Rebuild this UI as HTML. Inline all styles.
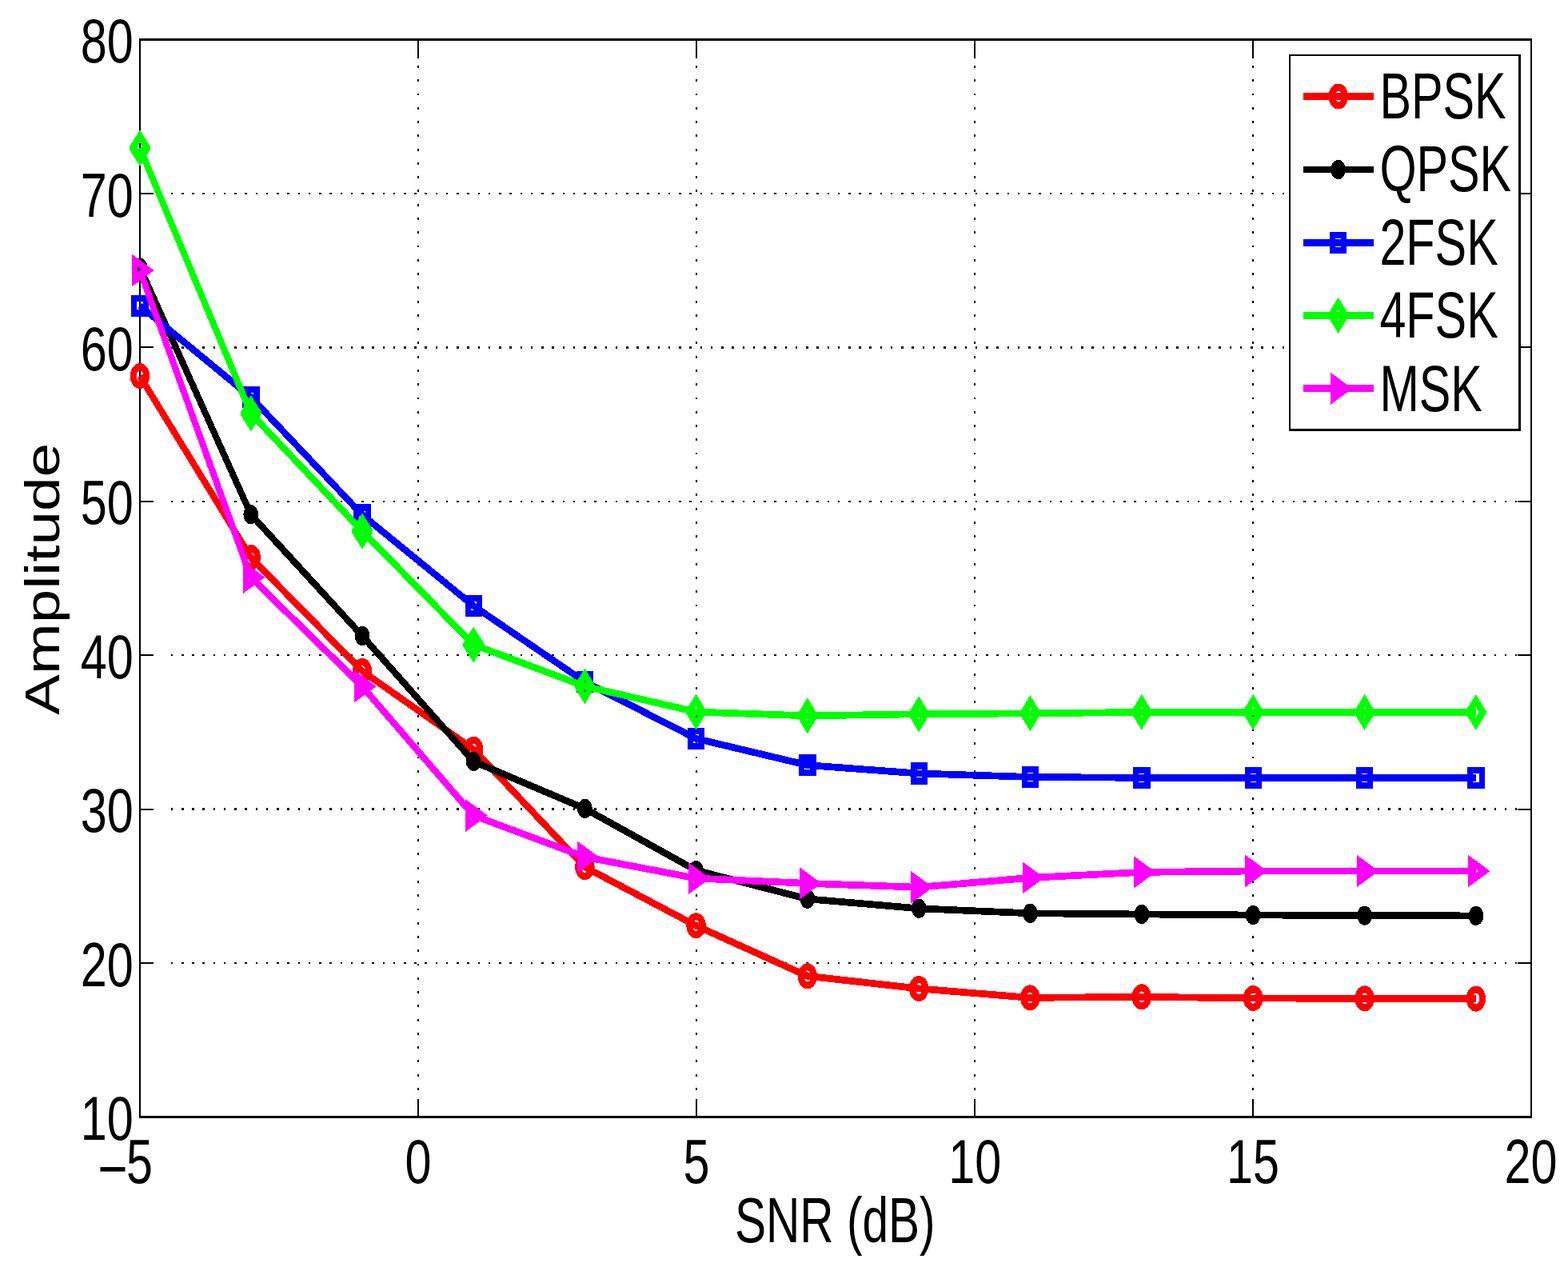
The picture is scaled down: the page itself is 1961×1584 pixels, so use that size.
<!DOCTYPE html>
<html lang="en"><head><meta charset="utf-8"><title>Amplitude vs SNR (dB)</title>
<style>html,body{margin:0;padding:0;background:#fff}body{width:1961px;height:1584px;overflow:hidden}svg{display:block}text{font-family:"Liberation Sans",Arial,Helvetica,sans-serif;font-size:77px;fill:#000}</style>
</head><body>
<svg width="1961" height="1584" viewBox="0 0 1961 1584">
<rect width="1961" height="1584" fill="#fff"/>
<g fill="#000" shape-rendering="crispEdges">
<path d="M213.76 1202.82h2.5v2.5h-2.5zM227 1202.82h2.5v2.5h-2.5zM240.24 1202.82h2.5v2.5h-2.5zM253.48 1202.82h2.5v2.5h-2.5zM266.72 1202.82h2.5v2.5h-2.5zM279.95 1202.82h2.5v2.5h-2.5zM293.19 1202.82h2.5v2.5h-2.5zM306.43 1202.82h2.5v2.5h-2.5zM319.67 1202.82h2.5v2.5h-2.5zM332.91 1202.82h2.5v2.5h-2.5zM346.14 1202.82h2.5v2.5h-2.5zM359.38 1202.82h2.5v2.5h-2.5zM372.62 1202.82h2.5v2.5h-2.5zM385.86 1202.82h2.5v2.5h-2.5zM399.1 1202.82h2.5v2.5h-2.5zM412.33 1202.82h2.5v2.5h-2.5zM425.57 1202.82h2.5v2.5h-2.5zM438.81 1202.82h2.5v2.5h-2.5zM452.05 1202.82h2.5v2.5h-2.5zM465.29 1202.82h2.5v2.5h-2.5zM478.52 1202.82h2.5v2.5h-2.5zM491.76 1202.82h2.5v2.5h-2.5zM505 1202.82h2.5v2.5h-2.5zM518.24 1202.82h2.5v2.5h-2.5zM531.48 1202.82h2.5v2.5h-2.5zM544.71 1202.82h2.5v2.5h-2.5zM557.95 1202.82h2.5v2.5h-2.5zM571.19 1202.82h2.5v2.5h-2.5zM584.43 1202.82h2.5v2.5h-2.5zM597.67 1202.82h2.5v2.5h-2.5zM610.9 1202.82h2.5v2.5h-2.5zM624.14 1202.82h2.5v2.5h-2.5zM637.38 1202.82h2.5v2.5h-2.5zM650.62 1202.82h2.5v2.5h-2.5zM663.86 1202.82h2.5v2.5h-2.5zM677.09 1202.82h2.5v2.5h-2.5zM690.33 1202.82h2.5v2.5h-2.5zM703.57 1202.82h2.5v2.5h-2.5zM716.81 1202.82h2.5v2.5h-2.5zM730.05 1202.82h2.5v2.5h-2.5zM743.28 1202.82h2.5v2.5h-2.5zM756.52 1202.82h2.5v2.5h-2.5zM769.76 1202.82h2.5v2.5h-2.5zM783 1202.82h2.5v2.5h-2.5zM796.24 1202.82h2.5v2.5h-2.5zM809.47 1202.82h2.5v2.5h-2.5zM822.71 1202.82h2.5v2.5h-2.5zM835.95 1202.82h2.5v2.5h-2.5zM849.19 1202.82h2.5v2.5h-2.5zM862.43 1202.82h2.5v2.5h-2.5zM875.66 1202.82h2.5v2.5h-2.5zM888.9 1202.82h2.5v2.5h-2.5zM902.14 1202.82h2.5v2.5h-2.5zM915.38 1202.82h2.5v2.5h-2.5zM928.62 1202.82h2.5v2.5h-2.5zM941.85 1202.82h2.5v2.5h-2.5zM955.09 1202.82h2.5v2.5h-2.5zM968.33 1202.82h2.5v2.5h-2.5zM981.57 1202.82h2.5v2.5h-2.5zM994.81 1202.82h2.5v2.5h-2.5zM1008.04 1202.82h2.5v2.5h-2.5zM1021.28 1202.82h2.5v2.5h-2.5zM1034.52 1202.82h2.5v2.5h-2.5zM1047.76 1202.82h2.5v2.5h-2.5zM1061 1202.82h2.5v2.5h-2.5zM1074.23 1202.82h2.5v2.5h-2.5zM1087.47 1202.82h2.5v2.5h-2.5zM1100.71 1202.82h2.5v2.5h-2.5zM1113.95 1202.82h2.5v2.5h-2.5zM1127.19 1202.82h2.5v2.5h-2.5zM1140.42 1202.82h2.5v2.5h-2.5zM1153.66 1202.82h2.5v2.5h-2.5zM1166.9 1202.82h2.5v2.5h-2.5zM1180.14 1202.82h2.5v2.5h-2.5zM1193.38 1202.82h2.5v2.5h-2.5zM1206.61 1202.82h2.5v2.5h-2.5zM1219.85 1202.82h2.5v2.5h-2.5zM1233.09 1202.82h2.5v2.5h-2.5zM1246.33 1202.82h2.5v2.5h-2.5zM1259.57 1202.82h2.5v2.5h-2.5zM1272.8 1202.82h2.5v2.5h-2.5zM1286.04 1202.82h2.5v2.5h-2.5zM1299.28 1202.82h2.5v2.5h-2.5zM1312.52 1202.82h2.5v2.5h-2.5zM1325.76 1202.82h2.5v2.5h-2.5zM1338.99 1202.82h2.5v2.5h-2.5zM1352.23 1202.82h2.5v2.5h-2.5zM1365.47 1202.82h2.5v2.5h-2.5zM1378.71 1202.82h2.5v2.5h-2.5zM1391.95 1202.82h2.5v2.5h-2.5zM1405.18 1202.82h2.5v2.5h-2.5zM1418.42 1202.82h2.5v2.5h-2.5zM1431.66 1202.82h2.5v2.5h-2.5zM1444.9 1202.82h2.5v2.5h-2.5zM1458.14 1202.82h2.5v2.5h-2.5zM1471.37 1202.82h2.5v2.5h-2.5zM1484.61 1202.82h2.5v2.5h-2.5zM1497.85 1202.82h2.5v2.5h-2.5zM1511.09 1202.82h2.5v2.5h-2.5zM1524.33 1202.82h2.5v2.5h-2.5zM1537.56 1202.82h2.5v2.5h-2.5zM1550.8 1202.82h2.5v2.5h-2.5zM1564.04 1202.82h2.5v2.5h-2.5zM1577.28 1202.82h2.5v2.5h-2.5zM1590.52 1202.82h2.5v2.5h-2.5zM1603.75 1202.82h2.5v2.5h-2.5zM1616.99 1202.82h2.5v2.5h-2.5zM1630.23 1202.82h2.5v2.5h-2.5zM1643.47 1202.82h2.5v2.5h-2.5zM1656.71 1202.82h2.5v2.5h-2.5zM1669.94 1202.82h2.5v2.5h-2.5zM1683.18 1202.82h2.5v2.5h-2.5zM1696.42 1202.82h2.5v2.5h-2.5zM1709.66 1202.82h2.5v2.5h-2.5zM1722.9 1202.82h2.5v2.5h-2.5zM1736.13 1202.82h2.5v2.5h-2.5zM1749.37 1202.82h2.5v2.5h-2.5zM1762.61 1202.82h2.5v2.5h-2.5zM1775.85 1202.82h2.5v2.5h-2.5zM1789.09 1202.82h2.5v2.5h-2.5zM1802.32 1202.82h2.5v2.5h-2.5zM1815.56 1202.82h2.5v2.5h-2.5zM1828.8 1202.82h2.5v2.5h-2.5zM1842.04 1202.82h2.5v2.5h-2.5zM1855.28 1202.82h2.5v2.5h-2.5zM1868.51 1202.82h2.5v2.5h-2.5zM1881.75 1202.82h2.5v2.5h-2.5zM1894.99 1202.82h2.5v2.5h-2.5zM213.76 1010.39h2.5v2.5h-2.5zM227 1010.39h2.5v2.5h-2.5zM240.24 1010.39h2.5v2.5h-2.5zM253.48 1010.39h2.5v2.5h-2.5zM266.72 1010.39h2.5v2.5h-2.5zM279.95 1010.39h2.5v2.5h-2.5zM293.19 1010.39h2.5v2.5h-2.5zM306.43 1010.39h2.5v2.5h-2.5zM319.67 1010.39h2.5v2.5h-2.5zM332.91 1010.39h2.5v2.5h-2.5zM346.14 1010.39h2.5v2.5h-2.5zM359.38 1010.39h2.5v2.5h-2.5zM372.62 1010.39h2.5v2.5h-2.5zM385.86 1010.39h2.5v2.5h-2.5zM399.1 1010.39h2.5v2.5h-2.5zM412.33 1010.39h2.5v2.5h-2.5zM425.57 1010.39h2.5v2.5h-2.5zM438.81 1010.39h2.5v2.5h-2.5zM452.05 1010.39h2.5v2.5h-2.5zM465.29 1010.39h2.5v2.5h-2.5zM478.52 1010.39h2.5v2.5h-2.5zM491.76 1010.39h2.5v2.5h-2.5zM505 1010.39h2.5v2.5h-2.5zM518.24 1010.39h2.5v2.5h-2.5zM531.48 1010.39h2.5v2.5h-2.5zM544.71 1010.39h2.5v2.5h-2.5zM557.95 1010.39h2.5v2.5h-2.5zM571.19 1010.39h2.5v2.5h-2.5zM584.43 1010.39h2.5v2.5h-2.5zM597.67 1010.39h2.5v2.5h-2.5zM610.9 1010.39h2.5v2.5h-2.5zM624.14 1010.39h2.5v2.5h-2.5zM637.38 1010.39h2.5v2.5h-2.5zM650.62 1010.39h2.5v2.5h-2.5zM663.86 1010.39h2.5v2.5h-2.5zM677.09 1010.39h2.5v2.5h-2.5zM690.33 1010.39h2.5v2.5h-2.5zM703.57 1010.39h2.5v2.5h-2.5zM716.81 1010.39h2.5v2.5h-2.5zM730.05 1010.39h2.5v2.5h-2.5zM743.28 1010.39h2.5v2.5h-2.5zM756.52 1010.39h2.5v2.5h-2.5zM769.76 1010.39h2.5v2.5h-2.5zM783 1010.39h2.5v2.5h-2.5zM796.24 1010.39h2.5v2.5h-2.5zM809.47 1010.39h2.5v2.5h-2.5zM822.71 1010.39h2.5v2.5h-2.5zM835.95 1010.39h2.5v2.5h-2.5zM849.19 1010.39h2.5v2.5h-2.5zM862.43 1010.39h2.5v2.5h-2.5zM875.66 1010.39h2.5v2.5h-2.5zM888.9 1010.39h2.5v2.5h-2.5zM902.14 1010.39h2.5v2.5h-2.5zM915.38 1010.39h2.5v2.5h-2.5zM928.62 1010.39h2.5v2.5h-2.5zM941.85 1010.39h2.5v2.5h-2.5zM955.09 1010.39h2.5v2.5h-2.5zM968.33 1010.39h2.5v2.5h-2.5zM981.57 1010.39h2.5v2.5h-2.5zM994.81 1010.39h2.5v2.5h-2.5zM1008.04 1010.39h2.5v2.5h-2.5zM1021.28 1010.39h2.5v2.5h-2.5zM1034.52 1010.39h2.5v2.5h-2.5zM1047.76 1010.39h2.5v2.5h-2.5zM1061 1010.39h2.5v2.5h-2.5zM1074.23 1010.39h2.5v2.5h-2.5zM1087.47 1010.39h2.5v2.5h-2.5zM1100.71 1010.39h2.5v2.5h-2.5zM1113.95 1010.39h2.5v2.5h-2.5zM1127.19 1010.39h2.5v2.5h-2.5zM1140.42 1010.39h2.5v2.5h-2.5zM1153.66 1010.39h2.5v2.5h-2.5zM1166.9 1010.39h2.5v2.5h-2.5zM1180.14 1010.39h2.5v2.5h-2.5zM1193.38 1010.39h2.5v2.5h-2.5zM1206.61 1010.39h2.5v2.5h-2.5zM1219.85 1010.39h2.5v2.5h-2.5zM1233.09 1010.39h2.5v2.5h-2.5zM1246.33 1010.39h2.5v2.5h-2.5zM1259.57 1010.39h2.5v2.5h-2.5zM1272.8 1010.39h2.5v2.5h-2.5zM1286.04 1010.39h2.5v2.5h-2.5zM1299.28 1010.39h2.5v2.5h-2.5zM1312.52 1010.39h2.5v2.5h-2.5zM1325.76 1010.39h2.5v2.5h-2.5zM1338.99 1010.39h2.5v2.5h-2.5zM1352.23 1010.39h2.5v2.5h-2.5zM1365.47 1010.39h2.5v2.5h-2.5zM1378.71 1010.39h2.5v2.5h-2.5zM1391.95 1010.39h2.5v2.5h-2.5zM1405.18 1010.39h2.5v2.5h-2.5zM1418.42 1010.39h2.5v2.5h-2.5zM1431.66 1010.39h2.5v2.5h-2.5zM1444.9 1010.39h2.5v2.5h-2.5zM1458.14 1010.39h2.5v2.5h-2.5zM1471.37 1010.39h2.5v2.5h-2.5zM1484.61 1010.39h2.5v2.5h-2.5zM1497.85 1010.39h2.5v2.5h-2.5zM1511.09 1010.39h2.5v2.5h-2.5zM1524.33 1010.39h2.5v2.5h-2.5zM1537.56 1010.39h2.5v2.5h-2.5zM1550.8 1010.39h2.5v2.5h-2.5zM1564.04 1010.39h2.5v2.5h-2.5zM1577.28 1010.39h2.5v2.5h-2.5zM1590.52 1010.39h2.5v2.5h-2.5zM1603.75 1010.39h2.5v2.5h-2.5zM1616.99 1010.39h2.5v2.5h-2.5zM1630.23 1010.39h2.5v2.5h-2.5zM1643.47 1010.39h2.5v2.5h-2.5zM1656.71 1010.39h2.5v2.5h-2.5zM1669.94 1010.39h2.5v2.5h-2.5zM1683.18 1010.39h2.5v2.5h-2.5zM1696.42 1010.39h2.5v2.5h-2.5zM1709.66 1010.39h2.5v2.5h-2.5zM1722.9 1010.39h2.5v2.5h-2.5zM1736.13 1010.39h2.5v2.5h-2.5zM1749.37 1010.39h2.5v2.5h-2.5zM1762.61 1010.39h2.5v2.5h-2.5zM1775.85 1010.39h2.5v2.5h-2.5zM1789.09 1010.39h2.5v2.5h-2.5zM1802.32 1010.39h2.5v2.5h-2.5zM1815.56 1010.39h2.5v2.5h-2.5zM1828.8 1010.39h2.5v2.5h-2.5zM1842.04 1010.39h2.5v2.5h-2.5zM1855.28 1010.39h2.5v2.5h-2.5zM1868.51 1010.39h2.5v2.5h-2.5zM1881.75 1010.39h2.5v2.5h-2.5zM1894.99 1010.39h2.5v2.5h-2.5zM213.76 817.96h2.5v2.5h-2.5zM227 817.96h2.5v2.5h-2.5zM240.24 817.96h2.5v2.5h-2.5zM253.48 817.96h2.5v2.5h-2.5zM266.72 817.96h2.5v2.5h-2.5zM279.95 817.96h2.5v2.5h-2.5zM293.19 817.96h2.5v2.5h-2.5zM306.43 817.96h2.5v2.5h-2.5zM319.67 817.96h2.5v2.5h-2.5zM332.91 817.96h2.5v2.5h-2.5zM346.14 817.96h2.5v2.5h-2.5zM359.38 817.96h2.5v2.5h-2.5zM372.62 817.96h2.5v2.5h-2.5zM385.86 817.96h2.5v2.5h-2.5zM399.1 817.96h2.5v2.5h-2.5zM412.33 817.96h2.5v2.5h-2.5zM425.57 817.96h2.5v2.5h-2.5zM438.81 817.96h2.5v2.5h-2.5zM452.05 817.96h2.5v2.5h-2.5zM465.29 817.96h2.5v2.5h-2.5zM478.52 817.96h2.5v2.5h-2.5zM491.76 817.96h2.5v2.5h-2.5zM505 817.96h2.5v2.5h-2.5zM518.24 817.96h2.5v2.5h-2.5zM531.48 817.96h2.5v2.5h-2.5zM544.71 817.96h2.5v2.5h-2.5zM557.95 817.96h2.5v2.5h-2.5zM571.19 817.96h2.5v2.5h-2.5zM584.43 817.96h2.5v2.5h-2.5zM597.67 817.96h2.5v2.5h-2.5zM610.9 817.96h2.5v2.5h-2.5zM624.14 817.96h2.5v2.5h-2.5zM637.38 817.96h2.5v2.5h-2.5zM650.62 817.96h2.5v2.5h-2.5zM663.86 817.96h2.5v2.5h-2.5zM677.09 817.96h2.5v2.5h-2.5zM690.33 817.96h2.5v2.5h-2.5zM703.57 817.96h2.5v2.5h-2.5zM716.81 817.96h2.5v2.5h-2.5zM730.05 817.96h2.5v2.5h-2.5zM743.28 817.96h2.5v2.5h-2.5zM756.52 817.96h2.5v2.5h-2.5zM769.76 817.96h2.5v2.5h-2.5zM783 817.96h2.5v2.5h-2.5zM796.24 817.96h2.5v2.5h-2.5zM809.47 817.96h2.5v2.5h-2.5zM822.71 817.96h2.5v2.5h-2.5zM835.95 817.96h2.5v2.5h-2.5zM849.19 817.96h2.5v2.5h-2.5zM862.43 817.96h2.5v2.5h-2.5zM875.66 817.96h2.5v2.5h-2.5zM888.9 817.96h2.5v2.5h-2.5zM902.14 817.96h2.5v2.5h-2.5zM915.38 817.96h2.5v2.5h-2.5zM928.62 817.96h2.5v2.5h-2.5zM941.85 817.96h2.5v2.5h-2.5zM955.09 817.96h2.5v2.5h-2.5zM968.33 817.96h2.5v2.5h-2.5zM981.57 817.96h2.5v2.5h-2.5zM994.81 817.96h2.5v2.5h-2.5zM1008.04 817.96h2.5v2.5h-2.5zM1021.28 817.96h2.5v2.5h-2.5zM1034.52 817.96h2.5v2.5h-2.5zM1047.76 817.96h2.5v2.5h-2.5zM1061 817.96h2.5v2.5h-2.5zM1074.23 817.96h2.5v2.5h-2.5zM1087.47 817.96h2.5v2.5h-2.5zM1100.71 817.96h2.5v2.5h-2.5zM1113.95 817.96h2.5v2.5h-2.5zM1127.19 817.96h2.5v2.5h-2.5zM1140.42 817.96h2.5v2.5h-2.5zM1153.66 817.96h2.5v2.5h-2.5zM1166.9 817.96h2.5v2.5h-2.5zM1180.14 817.96h2.5v2.5h-2.5zM1193.38 817.96h2.5v2.5h-2.5zM1206.61 817.96h2.5v2.5h-2.5zM1219.85 817.96h2.5v2.5h-2.5zM1233.09 817.96h2.5v2.5h-2.5zM1246.33 817.96h2.5v2.5h-2.5zM1259.57 817.96h2.5v2.5h-2.5zM1272.8 817.96h2.5v2.5h-2.5zM1286.04 817.96h2.5v2.5h-2.5zM1299.28 817.96h2.5v2.5h-2.5zM1312.52 817.96h2.5v2.5h-2.5zM1325.76 817.96h2.5v2.5h-2.5zM1338.99 817.96h2.5v2.5h-2.5zM1352.23 817.96h2.5v2.5h-2.5zM1365.47 817.96h2.5v2.5h-2.5zM1378.71 817.96h2.5v2.5h-2.5zM1391.95 817.96h2.5v2.5h-2.5zM1405.18 817.96h2.5v2.5h-2.5zM1418.42 817.96h2.5v2.5h-2.5zM1431.66 817.96h2.5v2.5h-2.5zM1444.9 817.96h2.5v2.5h-2.5zM1458.14 817.96h2.5v2.5h-2.5zM1471.37 817.96h2.5v2.5h-2.5zM1484.61 817.96h2.5v2.5h-2.5zM1497.85 817.96h2.5v2.5h-2.5zM1511.09 817.96h2.5v2.5h-2.5zM1524.33 817.96h2.5v2.5h-2.5zM1537.56 817.96h2.5v2.5h-2.5zM1550.8 817.96h2.5v2.5h-2.5zM1564.04 817.96h2.5v2.5h-2.5zM1577.28 817.96h2.5v2.5h-2.5zM1590.52 817.96h2.5v2.5h-2.5zM1603.75 817.96h2.5v2.5h-2.5zM1616.99 817.96h2.5v2.5h-2.5zM1630.23 817.96h2.5v2.5h-2.5zM1643.47 817.96h2.5v2.5h-2.5zM1656.71 817.96h2.5v2.5h-2.5zM1669.94 817.96h2.5v2.5h-2.5zM1683.18 817.96h2.5v2.5h-2.5zM1696.42 817.96h2.5v2.5h-2.5zM1709.66 817.96h2.5v2.5h-2.5zM1722.9 817.96h2.5v2.5h-2.5zM1736.13 817.96h2.5v2.5h-2.5zM1749.37 817.96h2.5v2.5h-2.5zM1762.61 817.96h2.5v2.5h-2.5zM1775.85 817.96h2.5v2.5h-2.5zM1789.09 817.96h2.5v2.5h-2.5zM1802.32 817.96h2.5v2.5h-2.5zM1815.56 817.96h2.5v2.5h-2.5zM1828.8 817.96h2.5v2.5h-2.5zM1842.04 817.96h2.5v2.5h-2.5zM1855.28 817.96h2.5v2.5h-2.5zM1868.51 817.96h2.5v2.5h-2.5zM1881.75 817.96h2.5v2.5h-2.5zM1894.99 817.96h2.5v2.5h-2.5zM213.76 625.54h2.5v2.5h-2.5zM227 625.54h2.5v2.5h-2.5zM240.24 625.54h2.5v2.5h-2.5zM253.48 625.54h2.5v2.5h-2.5zM266.72 625.54h2.5v2.5h-2.5zM279.95 625.54h2.5v2.5h-2.5zM293.19 625.54h2.5v2.5h-2.5zM306.43 625.54h2.5v2.5h-2.5zM319.67 625.54h2.5v2.5h-2.5zM332.91 625.54h2.5v2.5h-2.5zM346.14 625.54h2.5v2.5h-2.5zM359.38 625.54h2.5v2.5h-2.5zM372.62 625.54h2.5v2.5h-2.5zM385.86 625.54h2.5v2.5h-2.5zM399.1 625.54h2.5v2.5h-2.5zM412.33 625.54h2.5v2.5h-2.5zM425.57 625.54h2.5v2.5h-2.5zM438.81 625.54h2.5v2.5h-2.5zM452.05 625.54h2.5v2.5h-2.5zM465.29 625.54h2.5v2.5h-2.5zM478.52 625.54h2.5v2.5h-2.5zM491.76 625.54h2.5v2.5h-2.5zM505 625.54h2.5v2.5h-2.5zM518.24 625.54h2.5v2.5h-2.5zM531.48 625.54h2.5v2.5h-2.5zM544.71 625.54h2.5v2.5h-2.5zM557.95 625.54h2.5v2.5h-2.5zM571.19 625.54h2.5v2.5h-2.5zM584.43 625.54h2.5v2.5h-2.5zM597.67 625.54h2.5v2.5h-2.5zM610.9 625.54h2.5v2.5h-2.5zM624.14 625.54h2.5v2.5h-2.5zM637.38 625.54h2.5v2.5h-2.5zM650.62 625.54h2.5v2.5h-2.5zM663.86 625.54h2.5v2.5h-2.5zM677.09 625.54h2.5v2.5h-2.5zM690.33 625.54h2.5v2.5h-2.5zM703.57 625.54h2.5v2.5h-2.5zM716.81 625.54h2.5v2.5h-2.5zM730.05 625.54h2.5v2.5h-2.5zM743.28 625.54h2.5v2.5h-2.5zM756.52 625.54h2.5v2.5h-2.5zM769.76 625.54h2.5v2.5h-2.5zM783 625.54h2.5v2.5h-2.5zM796.24 625.54h2.5v2.5h-2.5zM809.47 625.54h2.5v2.5h-2.5zM822.71 625.54h2.5v2.5h-2.5zM835.95 625.54h2.5v2.5h-2.5zM849.19 625.54h2.5v2.5h-2.5zM862.43 625.54h2.5v2.5h-2.5zM875.66 625.54h2.5v2.5h-2.5zM888.9 625.54h2.5v2.5h-2.5zM902.14 625.54h2.5v2.5h-2.5zM915.38 625.54h2.5v2.5h-2.5zM928.62 625.54h2.5v2.5h-2.5zM941.85 625.54h2.5v2.5h-2.5zM955.09 625.54h2.5v2.5h-2.5zM968.33 625.54h2.5v2.5h-2.5zM981.57 625.54h2.5v2.5h-2.5zM994.81 625.54h2.5v2.5h-2.5zM1008.04 625.54h2.5v2.5h-2.5zM1021.28 625.54h2.5v2.5h-2.5zM1034.52 625.54h2.5v2.5h-2.5zM1047.76 625.54h2.5v2.5h-2.5zM1061 625.54h2.5v2.5h-2.5zM1074.23 625.54h2.5v2.5h-2.5zM1087.47 625.54h2.5v2.5h-2.5zM1100.71 625.54h2.5v2.5h-2.5zM1113.95 625.54h2.5v2.5h-2.5zM1127.19 625.54h2.5v2.5h-2.5zM1140.42 625.54h2.5v2.5h-2.5zM1153.66 625.54h2.5v2.5h-2.5zM1166.9 625.54h2.5v2.5h-2.5zM1180.14 625.54h2.5v2.5h-2.5zM1193.38 625.54h2.5v2.5h-2.5zM1206.61 625.54h2.5v2.5h-2.5zM1219.85 625.54h2.5v2.5h-2.5zM1233.09 625.54h2.5v2.5h-2.5zM1246.33 625.54h2.5v2.5h-2.5zM1259.57 625.54h2.5v2.5h-2.5zM1272.8 625.54h2.5v2.5h-2.5zM1286.04 625.54h2.5v2.5h-2.5zM1299.28 625.54h2.5v2.5h-2.5zM1312.52 625.54h2.5v2.5h-2.5zM1325.76 625.54h2.5v2.5h-2.5zM1338.99 625.54h2.5v2.5h-2.5zM1352.23 625.54h2.5v2.5h-2.5zM1365.47 625.54h2.5v2.5h-2.5zM1378.71 625.54h2.5v2.5h-2.5zM1391.95 625.54h2.5v2.5h-2.5zM1405.18 625.54h2.5v2.5h-2.5zM1418.42 625.54h2.5v2.5h-2.5zM1431.66 625.54h2.5v2.5h-2.5zM1444.9 625.54h2.5v2.5h-2.5zM1458.14 625.54h2.5v2.5h-2.5zM1471.37 625.54h2.5v2.5h-2.5zM1484.61 625.54h2.5v2.5h-2.5zM1497.85 625.54h2.5v2.5h-2.5zM1511.09 625.54h2.5v2.5h-2.5zM1524.33 625.54h2.5v2.5h-2.5zM1537.56 625.54h2.5v2.5h-2.5zM1550.8 625.54h2.5v2.5h-2.5zM1564.04 625.54h2.5v2.5h-2.5zM1577.28 625.54h2.5v2.5h-2.5zM1590.52 625.54h2.5v2.5h-2.5zM1603.75 625.54h2.5v2.5h-2.5zM1616.99 625.54h2.5v2.5h-2.5zM1630.23 625.54h2.5v2.5h-2.5zM1643.47 625.54h2.5v2.5h-2.5zM1656.71 625.54h2.5v2.5h-2.5zM1669.94 625.54h2.5v2.5h-2.5zM1683.18 625.54h2.5v2.5h-2.5zM1696.42 625.54h2.5v2.5h-2.5zM1709.66 625.54h2.5v2.5h-2.5zM1722.9 625.54h2.5v2.5h-2.5zM1736.13 625.54h2.5v2.5h-2.5zM1749.37 625.54h2.5v2.5h-2.5zM1762.61 625.54h2.5v2.5h-2.5zM1775.85 625.54h2.5v2.5h-2.5zM1789.09 625.54h2.5v2.5h-2.5zM1802.32 625.54h2.5v2.5h-2.5zM1815.56 625.54h2.5v2.5h-2.5zM1828.8 625.54h2.5v2.5h-2.5zM1842.04 625.54h2.5v2.5h-2.5zM1855.28 625.54h2.5v2.5h-2.5zM1868.51 625.54h2.5v2.5h-2.5zM1881.75 625.54h2.5v2.5h-2.5zM1894.99 625.54h2.5v2.5h-2.5zM213.76 433.11h2.5v2.5h-2.5zM227 433.11h2.5v2.5h-2.5zM240.24 433.11h2.5v2.5h-2.5zM253.48 433.11h2.5v2.5h-2.5zM266.72 433.11h2.5v2.5h-2.5zM279.95 433.11h2.5v2.5h-2.5zM293.19 433.11h2.5v2.5h-2.5zM306.43 433.11h2.5v2.5h-2.5zM319.67 433.11h2.5v2.5h-2.5zM332.91 433.11h2.5v2.5h-2.5zM346.14 433.11h2.5v2.5h-2.5zM359.38 433.11h2.5v2.5h-2.5zM372.62 433.11h2.5v2.5h-2.5zM385.86 433.11h2.5v2.5h-2.5zM399.1 433.11h2.5v2.5h-2.5zM412.33 433.11h2.5v2.5h-2.5zM425.57 433.11h2.5v2.5h-2.5zM438.81 433.11h2.5v2.5h-2.5zM452.05 433.11h2.5v2.5h-2.5zM465.29 433.11h2.5v2.5h-2.5zM478.52 433.11h2.5v2.5h-2.5zM491.76 433.11h2.5v2.5h-2.5zM505 433.11h2.5v2.5h-2.5zM518.24 433.11h2.5v2.5h-2.5zM531.48 433.11h2.5v2.5h-2.5zM544.71 433.11h2.5v2.5h-2.5zM557.95 433.11h2.5v2.5h-2.5zM571.19 433.11h2.5v2.5h-2.5zM584.43 433.11h2.5v2.5h-2.5zM597.67 433.11h2.5v2.5h-2.5zM610.9 433.11h2.5v2.5h-2.5zM624.14 433.11h2.5v2.5h-2.5zM637.38 433.11h2.5v2.5h-2.5zM650.62 433.11h2.5v2.5h-2.5zM663.86 433.11h2.5v2.5h-2.5zM677.09 433.11h2.5v2.5h-2.5zM690.33 433.11h2.5v2.5h-2.5zM703.57 433.11h2.5v2.5h-2.5zM716.81 433.11h2.5v2.5h-2.5zM730.05 433.11h2.5v2.5h-2.5zM743.28 433.11h2.5v2.5h-2.5zM756.52 433.11h2.5v2.5h-2.5zM769.76 433.11h2.5v2.5h-2.5zM783 433.11h2.5v2.5h-2.5zM796.24 433.11h2.5v2.5h-2.5zM809.47 433.11h2.5v2.5h-2.5zM822.71 433.11h2.5v2.5h-2.5zM835.95 433.11h2.5v2.5h-2.5zM849.19 433.11h2.5v2.5h-2.5zM862.43 433.11h2.5v2.5h-2.5zM875.66 433.11h2.5v2.5h-2.5zM888.9 433.11h2.5v2.5h-2.5zM902.14 433.11h2.5v2.5h-2.5zM915.38 433.11h2.5v2.5h-2.5zM928.62 433.11h2.5v2.5h-2.5zM941.85 433.11h2.5v2.5h-2.5zM955.09 433.11h2.5v2.5h-2.5zM968.33 433.11h2.5v2.5h-2.5zM981.57 433.11h2.5v2.5h-2.5zM994.81 433.11h2.5v2.5h-2.5zM1008.04 433.11h2.5v2.5h-2.5zM1021.28 433.11h2.5v2.5h-2.5zM1034.52 433.11h2.5v2.5h-2.5zM1047.76 433.11h2.5v2.5h-2.5zM1061 433.11h2.5v2.5h-2.5zM1074.23 433.11h2.5v2.5h-2.5zM1087.47 433.11h2.5v2.5h-2.5zM1100.71 433.11h2.5v2.5h-2.5zM1113.95 433.11h2.5v2.5h-2.5zM1127.19 433.11h2.5v2.5h-2.5zM1140.42 433.11h2.5v2.5h-2.5zM1153.66 433.11h2.5v2.5h-2.5zM1166.9 433.11h2.5v2.5h-2.5zM1180.14 433.11h2.5v2.5h-2.5zM1193.38 433.11h2.5v2.5h-2.5zM1206.61 433.11h2.5v2.5h-2.5zM1219.85 433.11h2.5v2.5h-2.5zM1233.09 433.11h2.5v2.5h-2.5zM1246.33 433.11h2.5v2.5h-2.5zM1259.57 433.11h2.5v2.5h-2.5zM1272.8 433.11h2.5v2.5h-2.5zM1286.04 433.11h2.5v2.5h-2.5zM1299.28 433.11h2.5v2.5h-2.5zM1312.52 433.11h2.5v2.5h-2.5zM1325.76 433.11h2.5v2.5h-2.5zM1338.99 433.11h2.5v2.5h-2.5zM1352.23 433.11h2.5v2.5h-2.5zM1365.47 433.11h2.5v2.5h-2.5zM1378.71 433.11h2.5v2.5h-2.5zM1391.95 433.11h2.5v2.5h-2.5zM1405.18 433.11h2.5v2.5h-2.5zM1418.42 433.11h2.5v2.5h-2.5zM1431.66 433.11h2.5v2.5h-2.5zM1444.9 433.11h2.5v2.5h-2.5zM1458.14 433.11h2.5v2.5h-2.5zM1471.37 433.11h2.5v2.5h-2.5zM1484.61 433.11h2.5v2.5h-2.5zM1497.85 433.11h2.5v2.5h-2.5zM1511.09 433.11h2.5v2.5h-2.5zM1524.33 433.11h2.5v2.5h-2.5zM1537.56 433.11h2.5v2.5h-2.5zM1550.8 433.11h2.5v2.5h-2.5zM1564.04 433.11h2.5v2.5h-2.5zM1577.28 433.11h2.5v2.5h-2.5zM1590.52 433.11h2.5v2.5h-2.5zM1603.75 433.11h2.5v2.5h-2.5zM1616.99 433.11h2.5v2.5h-2.5zM1630.23 433.11h2.5v2.5h-2.5zM1643.47 433.11h2.5v2.5h-2.5zM1656.71 433.11h2.5v2.5h-2.5zM1669.94 433.11h2.5v2.5h-2.5zM1683.18 433.11h2.5v2.5h-2.5zM1696.42 433.11h2.5v2.5h-2.5zM1709.66 433.11h2.5v2.5h-2.5zM1722.9 433.11h2.5v2.5h-2.5zM1736.13 433.11h2.5v2.5h-2.5zM1749.37 433.11h2.5v2.5h-2.5zM1762.61 433.11h2.5v2.5h-2.5zM1775.85 433.11h2.5v2.5h-2.5zM1789.09 433.11h2.5v2.5h-2.5zM1802.32 433.11h2.5v2.5h-2.5zM1815.56 433.11h2.5v2.5h-2.5zM1828.8 433.11h2.5v2.5h-2.5zM1842.04 433.11h2.5v2.5h-2.5zM1855.28 433.11h2.5v2.5h-2.5zM1868.51 433.11h2.5v2.5h-2.5zM1881.75 433.11h2.5v2.5h-2.5zM1894.99 433.11h2.5v2.5h-2.5zM213.76 240.68h2.5v2.5h-2.5zM227 240.68h2.5v2.5h-2.5zM240.24 240.68h2.5v2.5h-2.5zM253.48 240.68h2.5v2.5h-2.5zM266.72 240.68h2.5v2.5h-2.5zM279.95 240.68h2.5v2.5h-2.5zM293.19 240.68h2.5v2.5h-2.5zM306.43 240.68h2.5v2.5h-2.5zM319.67 240.68h2.5v2.5h-2.5zM332.91 240.68h2.5v2.5h-2.5zM346.14 240.68h2.5v2.5h-2.5zM359.38 240.68h2.5v2.5h-2.5zM372.62 240.68h2.5v2.5h-2.5zM385.86 240.68h2.5v2.5h-2.5zM399.1 240.68h2.5v2.5h-2.5zM412.33 240.68h2.5v2.5h-2.5zM425.57 240.68h2.5v2.5h-2.5zM438.81 240.68h2.5v2.5h-2.5zM452.05 240.68h2.5v2.5h-2.5zM465.29 240.68h2.5v2.5h-2.5zM478.52 240.68h2.5v2.5h-2.5zM491.76 240.68h2.5v2.5h-2.5zM505 240.68h2.5v2.5h-2.5zM518.24 240.68h2.5v2.5h-2.5zM531.48 240.68h2.5v2.5h-2.5zM544.71 240.68h2.5v2.5h-2.5zM557.95 240.68h2.5v2.5h-2.5zM571.19 240.68h2.5v2.5h-2.5zM584.43 240.68h2.5v2.5h-2.5zM597.67 240.68h2.5v2.5h-2.5zM610.9 240.68h2.5v2.5h-2.5zM624.14 240.68h2.5v2.5h-2.5zM637.38 240.68h2.5v2.5h-2.5zM650.62 240.68h2.5v2.5h-2.5zM663.86 240.68h2.5v2.5h-2.5zM677.09 240.68h2.5v2.5h-2.5zM690.33 240.68h2.5v2.5h-2.5zM703.57 240.68h2.5v2.5h-2.5zM716.81 240.68h2.5v2.5h-2.5zM730.05 240.68h2.5v2.5h-2.5zM743.28 240.68h2.5v2.5h-2.5zM756.52 240.68h2.5v2.5h-2.5zM769.76 240.68h2.5v2.5h-2.5zM783 240.68h2.5v2.5h-2.5zM796.24 240.68h2.5v2.5h-2.5zM809.47 240.68h2.5v2.5h-2.5zM822.71 240.68h2.5v2.5h-2.5zM835.95 240.68h2.5v2.5h-2.5zM849.19 240.68h2.5v2.5h-2.5zM862.43 240.68h2.5v2.5h-2.5zM875.66 240.68h2.5v2.5h-2.5zM888.9 240.68h2.5v2.5h-2.5zM902.14 240.68h2.5v2.5h-2.5zM915.38 240.68h2.5v2.5h-2.5zM928.62 240.68h2.5v2.5h-2.5zM941.85 240.68h2.5v2.5h-2.5zM955.09 240.68h2.5v2.5h-2.5zM968.33 240.68h2.5v2.5h-2.5zM981.57 240.68h2.5v2.5h-2.5zM994.81 240.68h2.5v2.5h-2.5zM1008.04 240.68h2.5v2.5h-2.5zM1021.28 240.68h2.5v2.5h-2.5zM1034.52 240.68h2.5v2.5h-2.5zM1047.76 240.68h2.5v2.5h-2.5zM1061 240.68h2.5v2.5h-2.5zM1074.23 240.68h2.5v2.5h-2.5zM1087.47 240.68h2.5v2.5h-2.5zM1100.71 240.68h2.5v2.5h-2.5zM1113.95 240.68h2.5v2.5h-2.5zM1127.19 240.68h2.5v2.5h-2.5zM1140.42 240.68h2.5v2.5h-2.5zM1153.66 240.68h2.5v2.5h-2.5zM1166.9 240.68h2.5v2.5h-2.5zM1180.14 240.68h2.5v2.5h-2.5zM1193.38 240.68h2.5v2.5h-2.5zM1206.61 240.68h2.5v2.5h-2.5zM1219.85 240.68h2.5v2.5h-2.5zM1233.09 240.68h2.5v2.5h-2.5zM1246.33 240.68h2.5v2.5h-2.5zM1259.57 240.68h2.5v2.5h-2.5zM1272.8 240.68h2.5v2.5h-2.5zM1286.04 240.68h2.5v2.5h-2.5zM1299.28 240.68h2.5v2.5h-2.5zM1312.52 240.68h2.5v2.5h-2.5zM1325.76 240.68h2.5v2.5h-2.5zM1338.99 240.68h2.5v2.5h-2.5zM1352.23 240.68h2.5v2.5h-2.5zM1365.47 240.68h2.5v2.5h-2.5zM1378.71 240.68h2.5v2.5h-2.5zM1391.95 240.68h2.5v2.5h-2.5zM1405.18 240.68h2.5v2.5h-2.5zM1418.42 240.68h2.5v2.5h-2.5zM1431.66 240.68h2.5v2.5h-2.5zM1444.9 240.68h2.5v2.5h-2.5zM1458.14 240.68h2.5v2.5h-2.5zM1471.37 240.68h2.5v2.5h-2.5zM1484.61 240.68h2.5v2.5h-2.5zM1497.85 240.68h2.5v2.5h-2.5zM1511.09 240.68h2.5v2.5h-2.5zM1524.33 240.68h2.5v2.5h-2.5zM1537.56 240.68h2.5v2.5h-2.5zM1550.8 240.68h2.5v2.5h-2.5zM1564.04 240.68h2.5v2.5h-2.5zM1577.28 240.68h2.5v2.5h-2.5zM1590.52 240.68h2.5v2.5h-2.5zM1603.75 240.68h2.5v2.5h-2.5zM1616.99 240.68h2.5v2.5h-2.5zM1630.23 240.68h2.5v2.5h-2.5zM1643.47 240.68h2.5v2.5h-2.5zM1656.71 240.68h2.5v2.5h-2.5zM1669.94 240.68h2.5v2.5h-2.5zM1683.18 240.68h2.5v2.5h-2.5zM1696.42 240.68h2.5v2.5h-2.5zM1709.66 240.68h2.5v2.5h-2.5zM1722.9 240.68h2.5v2.5h-2.5zM1736.13 240.68h2.5v2.5h-2.5zM1749.37 240.68h2.5v2.5h-2.5zM1762.61 240.68h2.5v2.5h-2.5zM1775.85 240.68h2.5v2.5h-2.5zM1789.09 240.68h2.5v2.5h-2.5zM1802.32 240.68h2.5v2.5h-2.5zM1815.56 240.68h2.5v2.5h-2.5zM1828.8 240.68h2.5v2.5h-2.5zM1842.04 240.68h2.5v2.5h-2.5zM1855.28 240.68h2.5v2.5h-2.5zM1868.51 240.68h2.5v2.5h-2.5zM1881.75 240.68h2.5v2.5h-2.5zM1894.99 240.68h2.5v2.5h-2.5zM522 1360.01h2v2.9h-2zM522 1342.74h2v2.9h-2zM522 1325.47h2v2.9h-2zM522 1308.2h2v2.9h-2zM522 1290.93h2v2.9h-2zM522 1273.66h2v2.9h-2zM522 1256.39h2v2.9h-2zM522 1239.12h2v2.9h-2zM522 1221.85h2v2.9h-2zM522 1204.58h2v2.9h-2zM522 1187.31h2v2.9h-2zM522 1170.04h2v2.9h-2zM522 1152.77h2v2.9h-2zM522 1135.5h2v2.9h-2zM522 1118.23h2v2.9h-2zM522 1100.96h2v2.9h-2zM522 1083.69h2v2.9h-2zM522 1066.42h2v2.9h-2zM522 1049.15h2v2.9h-2zM522 1031.88h2v2.9h-2zM522 1014.61h2v2.9h-2zM522 997.34h2v2.9h-2zM522 980.07h2v2.9h-2zM522 962.8h2v2.9h-2zM522 945.53h2v2.9h-2zM522 928.26h2v2.9h-2zM522 910.99h2v2.9h-2zM522 893.72h2v2.9h-2zM522 876.45h2v2.9h-2zM522 859.18h2v2.9h-2zM522 841.91h2v2.9h-2zM522 824.64h2v2.9h-2zM522 807.37h2v2.9h-2zM522 790.1h2v2.9h-2zM522 772.83h2v2.9h-2zM522 755.56h2v2.9h-2zM522 738.29h2v2.9h-2zM522 721.02h2v2.9h-2zM522 703.75h2v2.9h-2zM522 686.48h2v2.9h-2zM522 669.21h2v2.9h-2zM522 651.94h2v2.9h-2zM522 634.67h2v2.9h-2zM522 617.4h2v2.9h-2zM522 600.13h2v2.9h-2zM522 582.86h2v2.9h-2zM522 565.59h2v2.9h-2zM522 548.32h2v2.9h-2zM522 531.05h2v2.9h-2zM522 513.78h2v2.9h-2zM522 496.51h2v2.9h-2zM522 479.24h2v2.9h-2zM522 461.97h2v2.9h-2zM522 444.7h2v2.9h-2zM522 427.43h2v2.9h-2zM522 410.16h2v2.9h-2zM522 392.89h2v2.9h-2zM522 375.62h2v2.9h-2zM522 358.35h2v2.9h-2zM522 341.08h2v2.9h-2zM522 323.81h2v2.9h-2zM522 306.54h2v2.9h-2zM522 289.27h2v2.9h-2zM522 272h2v2.9h-2zM522 254.73h2v2.9h-2zM522 237.46h2v2.9h-2zM522 220.19h2v2.9h-2zM522 202.92h2v2.9h-2zM522 185.65h2v2.9h-2zM522 168.38h2v2.9h-2zM522 151.11h2v2.9h-2zM522 133.84h2v2.9h-2zM522 116.57h2v2.9h-2zM522 99.3h2v2.9h-2zM522 82.03h2v2.9h-2zM870 1360.01h2v2.9h-2zM870 1342.74h2v2.9h-2zM870 1325.47h2v2.9h-2zM870 1308.2h2v2.9h-2zM870 1290.93h2v2.9h-2zM870 1273.66h2v2.9h-2zM870 1256.39h2v2.9h-2zM870 1239.12h2v2.9h-2zM870 1221.85h2v2.9h-2zM870 1204.58h2v2.9h-2zM870 1187.31h2v2.9h-2zM870 1170.04h2v2.9h-2zM870 1152.77h2v2.9h-2zM870 1135.5h2v2.9h-2zM870 1118.23h2v2.9h-2zM870 1100.96h2v2.9h-2zM870 1083.69h2v2.9h-2zM870 1066.42h2v2.9h-2zM870 1049.15h2v2.9h-2zM870 1031.88h2v2.9h-2zM870 1014.61h2v2.9h-2zM870 997.34h2v2.9h-2zM870 980.07h2v2.9h-2zM870 962.8h2v2.9h-2zM870 945.53h2v2.9h-2zM870 928.26h2v2.9h-2zM870 910.99h2v2.9h-2zM870 893.72h2v2.9h-2zM870 876.45h2v2.9h-2zM870 859.18h2v2.9h-2zM870 841.91h2v2.9h-2zM870 824.64h2v2.9h-2zM870 807.37h2v2.9h-2zM870 790.1h2v2.9h-2zM870 772.83h2v2.9h-2zM870 755.56h2v2.9h-2zM870 738.29h2v2.9h-2zM870 721.02h2v2.9h-2zM870 703.75h2v2.9h-2zM870 686.48h2v2.9h-2zM870 669.21h2v2.9h-2zM870 651.94h2v2.9h-2zM870 634.67h2v2.9h-2zM870 617.4h2v2.9h-2zM870 600.13h2v2.9h-2zM870 582.86h2v2.9h-2zM870 565.59h2v2.9h-2zM870 548.32h2v2.9h-2zM870 531.05h2v2.9h-2zM870 513.78h2v2.9h-2zM870 496.51h2v2.9h-2zM870 479.24h2v2.9h-2zM870 461.97h2v2.9h-2zM870 444.7h2v2.9h-2zM870 427.43h2v2.9h-2zM870 410.16h2v2.9h-2zM870 392.89h2v2.9h-2zM870 375.62h2v2.9h-2zM870 358.35h2v2.9h-2zM870 341.08h2v2.9h-2zM870 323.81h2v2.9h-2zM870 306.54h2v2.9h-2zM870 289.27h2v2.9h-2zM870 272h2v2.9h-2zM870 254.73h2v2.9h-2zM870 237.46h2v2.9h-2zM870 220.19h2v2.9h-2zM870 202.92h2v2.9h-2zM870 185.65h2v2.9h-2zM870 168.38h2v2.9h-2zM870 151.11h2v2.9h-2zM870 133.84h2v2.9h-2zM870 116.57h2v2.9h-2zM870 99.3h2v2.9h-2zM870 82.03h2v2.9h-2zM1218 1360.01h2v2.9h-2zM1218 1342.74h2v2.9h-2zM1218 1325.47h2v2.9h-2zM1218 1308.2h2v2.9h-2zM1218 1290.93h2v2.9h-2zM1218 1273.66h2v2.9h-2zM1218 1256.39h2v2.9h-2zM1218 1239.12h2v2.9h-2zM1218 1221.85h2v2.9h-2zM1218 1204.58h2v2.9h-2zM1218 1187.31h2v2.9h-2zM1218 1170.04h2v2.9h-2zM1218 1152.77h2v2.9h-2zM1218 1135.5h2v2.9h-2zM1218 1118.23h2v2.9h-2zM1218 1100.96h2v2.9h-2zM1218 1083.69h2v2.9h-2zM1218 1066.42h2v2.9h-2zM1218 1049.15h2v2.9h-2zM1218 1031.88h2v2.9h-2zM1218 1014.61h2v2.9h-2zM1218 997.34h2v2.9h-2zM1218 980.07h2v2.9h-2zM1218 962.8h2v2.9h-2zM1218 945.53h2v2.9h-2zM1218 928.26h2v2.9h-2zM1218 910.99h2v2.9h-2zM1218 893.72h2v2.9h-2zM1218 876.45h2v2.9h-2zM1218 859.18h2v2.9h-2zM1218 841.91h2v2.9h-2zM1218 824.64h2v2.9h-2zM1218 807.37h2v2.9h-2zM1218 790.1h2v2.9h-2zM1218 772.83h2v2.9h-2zM1218 755.56h2v2.9h-2zM1218 738.29h2v2.9h-2zM1218 721.02h2v2.9h-2zM1218 703.75h2v2.9h-2zM1218 686.48h2v2.9h-2zM1218 669.21h2v2.9h-2zM1218 651.94h2v2.9h-2zM1218 634.67h2v2.9h-2zM1218 617.4h2v2.9h-2zM1218 600.13h2v2.9h-2zM1218 582.86h2v2.9h-2zM1218 565.59h2v2.9h-2zM1218 548.32h2v2.9h-2zM1218 531.05h2v2.9h-2zM1218 513.78h2v2.9h-2zM1218 496.51h2v2.9h-2zM1218 479.24h2v2.9h-2zM1218 461.97h2v2.9h-2zM1218 444.7h2v2.9h-2zM1218 427.43h2v2.9h-2zM1218 410.16h2v2.9h-2zM1218 392.89h2v2.9h-2zM1218 375.62h2v2.9h-2zM1218 358.35h2v2.9h-2zM1218 341.08h2v2.9h-2zM1218 323.81h2v2.9h-2zM1218 306.54h2v2.9h-2zM1218 289.27h2v2.9h-2zM1218 272h2v2.9h-2zM1218 254.73h2v2.9h-2zM1218 237.46h2v2.9h-2zM1218 220.19h2v2.9h-2zM1218 202.92h2v2.9h-2zM1218 185.65h2v2.9h-2zM1218 168.38h2v2.9h-2zM1218 151.11h2v2.9h-2zM1218 133.84h2v2.9h-2zM1218 116.57h2v2.9h-2zM1218 99.3h2v2.9h-2zM1218 82.03h2v2.9h-2zM1566 1360.01h2v2.9h-2zM1566 1342.74h2v2.9h-2zM1566 1325.47h2v2.9h-2zM1566 1308.2h2v2.9h-2zM1566 1290.93h2v2.9h-2zM1566 1273.66h2v2.9h-2zM1566 1256.39h2v2.9h-2zM1566 1239.12h2v2.9h-2zM1566 1221.85h2v2.9h-2zM1566 1204.58h2v2.9h-2zM1566 1187.31h2v2.9h-2zM1566 1170.04h2v2.9h-2zM1566 1152.77h2v2.9h-2zM1566 1135.5h2v2.9h-2zM1566 1118.23h2v2.9h-2zM1566 1100.96h2v2.9h-2zM1566 1083.69h2v2.9h-2zM1566 1066.42h2v2.9h-2zM1566 1049.15h2v2.9h-2zM1566 1031.88h2v2.9h-2zM1566 1014.61h2v2.9h-2zM1566 997.34h2v2.9h-2zM1566 980.07h2v2.9h-2zM1566 962.8h2v2.9h-2zM1566 945.53h2v2.9h-2zM1566 928.26h2v2.9h-2zM1566 910.99h2v2.9h-2zM1566 893.72h2v2.9h-2zM1566 876.45h2v2.9h-2zM1566 859.18h2v2.9h-2zM1566 841.91h2v2.9h-2zM1566 824.64h2v2.9h-2zM1566 807.37h2v2.9h-2zM1566 790.1h2v2.9h-2zM1566 772.83h2v2.9h-2zM1566 755.56h2v2.9h-2zM1566 738.29h2v2.9h-2zM1566 721.02h2v2.9h-2zM1566 703.75h2v2.9h-2zM1566 686.48h2v2.9h-2zM1566 669.21h2v2.9h-2zM1566 651.94h2v2.9h-2zM1566 634.67h2v2.9h-2zM1566 617.4h2v2.9h-2zM1566 600.13h2v2.9h-2zM1566 582.86h2v2.9h-2zM1566 565.59h2v2.9h-2zM1566 548.32h2v2.9h-2zM1566 531.05h2v2.9h-2zM1566 513.78h2v2.9h-2zM1566 496.51h2v2.9h-2zM1566 479.24h2v2.9h-2zM1566 461.97h2v2.9h-2zM1566 444.7h2v2.9h-2zM1566 427.43h2v2.9h-2zM1566 410.16h2v2.9h-2zM1566 392.89h2v2.9h-2zM1566 375.62h2v2.9h-2zM1566 358.35h2v2.9h-2zM1566 341.08h2v2.9h-2zM1566 323.81h2v2.9h-2zM1566 306.54h2v2.9h-2zM1566 289.27h2v2.9h-2zM1566 272h2v2.9h-2zM1566 254.73h2v2.9h-2zM1566 237.46h2v2.9h-2zM1566 220.19h2v2.9h-2zM1566 202.92h2v2.9h-2zM1566 185.65h2v2.9h-2zM1566 168.38h2v2.9h-2zM1566 151.11h2v2.9h-2zM1566 133.84h2v2.9h-2zM1566 116.57h2v2.9h-2zM1566 99.3h2v2.9h-2zM1566 82.03h2v2.9h-2z"/>
<path d="M174 48H1916V1398H174z M176 51V1395H1914V51z" fill-rule="evenodd"/>
<path d="M176 1203.07h16v2h-16zM1898 1203.07h16v2h-16zM176 1010.64h16v2h-16zM1898 1010.64h16v2h-16zM176 818.21h16v2h-16zM1898 818.21h16v2h-16zM176 625.79h16v2h-16zM1898 625.79h16v2h-16zM176 433.36h16v2h-16zM1898 433.36h16v2h-16zM176 240.93h16v2h-16zM1898 240.93h16v2h-16zM522 1374h2v21h-2zM522 51h2v21.5h-2zM870 1374h2v21h-2zM870 51h2v21.5h-2zM1218 1374h2v21h-2zM1218 51h2v21.5h-2zM1566 1374h2v21h-2zM1566 51h2v21.5h-2z"/>
</g>
<g fill="#ff0000" stroke="none" shape-rendering="crispEdges">
<polyline transform="scale(0.92 1)" fill="none" stroke="#ff0000" stroke-width="8.7" stroke-linejoin="round" points="190.22,470.2 341.09,697 492.39,839 643.7,936.8 795,1084 946.3,1157.3 1097.61,1220.3 1249.13,1235.9 1400.43,1247.4 1551.96,1246.3 1703.48,1248 1855,1248.4 2006.41,1248.6"/>
<path fill-rule="evenodd" d="M162.8 470.2a12.2 16 0 1 0 24.4 0a12.2 16 0 1 0 -24.4 0zM170.7 470.2a4.3 6.9 0 1 0 8.6 0a4.3 6.9 0 1 0 -8.6 0z"/>
<path fill-rule="evenodd" d="M301.6 697a12.2 16 0 1 0 24.4 0a12.2 16 0 1 0 -24.4 0zM309.5 697a4.3 6.9 0 1 0 8.6 0a4.3 6.9 0 1 0 -8.6 0z"/>
<path fill-rule="evenodd" d="M440.8 839a12.2 16 0 1 0 24.4 0a12.2 16 0 1 0 -24.4 0zM448.7 839a4.3 6.9 0 1 0 8.6 0a4.3 6.9 0 1 0 -8.6 0z"/>
<path fill-rule="evenodd" d="M580 936.8a12.2 16 0 1 0 24.4 0a12.2 16 0 1 0 -24.4 0zM587.9 936.8a4.3 6.9 0 1 0 8.6 0a4.3 6.9 0 1 0 -8.6 0z"/>
<path fill-rule="evenodd" d="M719.2 1084a12.2 16 0 1 0 24.4 0a12.2 16 0 1 0 -24.4 0zM727.1 1084a4.3 6.9 0 1 0 8.6 0a4.3 6.9 0 1 0 -8.6 0z"/>
<path fill-rule="evenodd" d="M858.4 1157.3a12.2 16 0 1 0 24.4 0a12.2 16 0 1 0 -24.4 0zM866.3 1157.3a4.3 6.9 0 1 0 8.6 0a4.3 6.9 0 1 0 -8.6 0z"/>
<path fill-rule="evenodd" d="M997.6 1220.3a12.2 16 0 1 0 24.4 0a12.2 16 0 1 0 -24.4 0zM1005.5 1220.3a4.3 6.9 0 1 0 8.6 0a4.3 6.9 0 1 0 -8.6 0z"/>
<path fill-rule="evenodd" d="M1137 1235.9a12.2 16 0 1 0 24.4 0a12.2 16 0 1 0 -24.4 0zM1144.9 1235.9a4.3 6.9 0 1 0 8.6 0a4.3 6.9 0 1 0 -8.6 0z"/>
<path fill-rule="evenodd" d="M1276.2 1247.4a12.2 16 0 1 0 24.4 0a12.2 16 0 1 0 -24.4 0zM1284.1 1247.4a4.3 6.9 0 1 0 8.6 0a4.3 6.9 0 1 0 -8.6 0z"/>
<path fill-rule="evenodd" d="M1415.6 1246.3a12.2 16 0 1 0 24.4 0a12.2 16 0 1 0 -24.4 0zM1423.5 1246.3a4.3 6.9 0 1 0 8.6 0a4.3 6.9 0 1 0 -8.6 0z"/>
<path fill-rule="evenodd" d="M1555 1248a12.2 16 0 1 0 24.4 0a12.2 16 0 1 0 -24.4 0zM1562.9 1248a4.3 6.9 0 1 0 8.6 0a4.3 6.9 0 1 0 -8.6 0z"/>
<path fill-rule="evenodd" d="M1694.4 1248.4a12.2 16 0 1 0 24.4 0a12.2 16 0 1 0 -24.4 0zM1702.3 1248.4a4.3 6.9 0 1 0 8.6 0a4.3 6.9 0 1 0 -8.6 0z"/>
<path fill-rule="evenodd" d="M1833.7 1248.6a12.2 16 0 1 0 24.4 0a12.2 16 0 1 0 -24.4 0zM1841.6 1248.6a4.3 6.9 0 1 0 8.6 0a4.3 6.9 0 1 0 -8.6 0z"/>
</g>
<g fill="#000000" stroke="none" shape-rendering="crispEdges">
<polyline transform="scale(0.92 1)" fill="none" stroke="#000000" stroke-width="8.7" stroke-linejoin="round" points="190.22,334.5 341.09,643.2 492.39,794.9 643.7,951.9 795,1010.9 946.3,1088.1 1097.61,1123.8 1249.13,1135.8 1400.43,1141.8 1551.96,1143 1703.48,1144 1855,1144.6 2006.41,1144.9"/>
<ellipse cx="175" cy="334.5" rx="9.4" ry="12.1"/>
<ellipse cx="313.8" cy="643.2" rx="9.4" ry="12.1"/>
<ellipse cx="453" cy="794.9" rx="9.4" ry="12.1"/>
<ellipse cx="592.2" cy="951.9" rx="9.4" ry="12.1"/>
<ellipse cx="731.4" cy="1010.9" rx="9.4" ry="12.1"/>
<ellipse cx="870.6" cy="1088.1" rx="9.4" ry="12.1"/>
<ellipse cx="1009.8" cy="1123.8" rx="9.4" ry="12.1"/>
<ellipse cx="1149.2" cy="1135.8" rx="9.4" ry="12.1"/>
<ellipse cx="1288.4" cy="1141.8" rx="9.4" ry="12.1"/>
<ellipse cx="1427.8" cy="1143" rx="9.4" ry="12.1"/>
<ellipse cx="1567.2" cy="1144" rx="9.4" ry="12.1"/>
<ellipse cx="1706.6" cy="1144.6" rx="9.4" ry="12.1"/>
<ellipse cx="1845.9" cy="1144.9" rx="9.4" ry="12.1"/>
</g>
<g fill="#0000ff" stroke="none" shape-rendering="crispEdges">
<polyline transform="scale(0.92 1)" fill="none" stroke="#0000ff" stroke-width="8.7" stroke-linejoin="round" points="190.22,382.1 341.09,496.5 492.39,643.7 643.7,757.45 795,852.5 946.3,923.4 1097.61,956.6 1249.13,967 1400.43,971.4 1551.96,972.4 1703.48,972.4 1855,972.4 2006.41,972.4"/>
<path fill-rule="evenodd" d="M164.3 368.5h21.4v27.2h-21.4z M171.4 377h7.2v10.2h-7.2z"/>
<path fill-rule="evenodd" d="M303.1 482.9h21.4v27.2h-21.4z M310.2 491.4h7.2v10.2h-7.2z"/>
<path fill-rule="evenodd" d="M442.3 630.1h21.4v27.2h-21.4z M449.4 638.6h7.2v10.2h-7.2z"/>
<path fill-rule="evenodd" d="M581.5 743.85h21.4v27.2h-21.4z M588.6 752.35h7.2v10.2h-7.2z"/>
<path fill-rule="evenodd" d="M720.7 838.9h21.4v27.2h-21.4z M727.8 847.4h7.2v10.2h-7.2z"/>
<path fill-rule="evenodd" d="M859.9 909.8h21.4v27.2h-21.4z M867 918.3h7.2v10.2h-7.2z"/>
<path fill-rule="evenodd" d="M999.1 943h21.4v27.2h-21.4z M1006.2 951.5h7.2v10.2h-7.2z"/>
<path fill-rule="evenodd" d="M1138.5 953.4h21.4v27.2h-21.4z M1145.6 961.9h7.2v10.2h-7.2z"/>
<path fill-rule="evenodd" d="M1277.7 957.8h21.4v27.2h-21.4z M1284.8 966.3h7.2v10.2h-7.2z"/>
<path fill-rule="evenodd" d="M1417.1 958.8h21.4v27.2h-21.4z M1424.2 967.3h7.2v10.2h-7.2z"/>
<path fill-rule="evenodd" d="M1556.5 958.8h21.4v27.2h-21.4z M1563.6 967.3h7.2v10.2h-7.2z"/>
<path fill-rule="evenodd" d="M1695.9 958.8h21.4v27.2h-21.4z M1703 967.3h7.2v10.2h-7.2z"/>
<path fill-rule="evenodd" d="M1835.2 958.8h21.4v27.2h-21.4z M1842.3 967.3h7.2v10.2h-7.2z"/>
</g>
<g fill="#00ff00" stroke="none" shape-rendering="crispEdges">
<polyline transform="scale(0.92 1)" fill="none" stroke="#00ff00" stroke-width="8.7" stroke-linejoin="round" points="190.22,185.1 341.09,516.8 492.39,664 643.7,806.05 795,858 946.3,890 1097.61,894.9 1249.13,892.8 1400.43,891.9 1551.96,890.35 1703.48,890.35 1855,890.4 2006.41,890.5"/>
<path fill-rule="evenodd" d="M175 162.5l13.3 21.1v3l-13.3 21.1l-13.3 -21.1v-3zM175 178.3l3.3 6.8l-3.3 6.8l-3.3 -6.8z"/>
<path fill-rule="evenodd" d="M313.8 494.2l13.3 21.1v3l-13.3 21.1l-13.3 -21.1v-3zM313.8 510l3.3 6.8l-3.3 6.8l-3.3 -6.8z"/>
<path fill-rule="evenodd" d="M453 641.4l13.3 21.1v3l-13.3 21.1l-13.3 -21.1v-3zM453 657.2l3.3 6.8l-3.3 6.8l-3.3 -6.8z"/>
<path fill-rule="evenodd" d="M592.2 783.45l13.3 21.1v3l-13.3 21.1l-13.3 -21.1v-3zM592.2 799.25l3.3 6.8l-3.3 6.8l-3.3 -6.8z"/>
<path fill-rule="evenodd" d="M731.4 835.4l12.7 21.1v3l-12.7 21.1l-12.7 -21.1v-3zM731.4 851.2l3.3 6.8l-3.3 6.8l-3.3 -6.8z"/>
<path fill-rule="evenodd" d="M870.6 867.4l12.7 21.1v3l-12.7 21.1l-12.7 -21.1v-3zM870.6 883.2l3.3 6.8l-3.3 6.8l-3.3 -6.8z"/>
<path fill-rule="evenodd" d="M1009.8 872.3l12.7 21.1v3l-12.7 21.1l-12.7 -21.1v-3zM1009.8 888.1l3.3 6.8l-3.3 6.8l-3.3 -6.8z"/>
<path fill-rule="evenodd" d="M1149.2 870.2l12.7 21.1v3l-12.7 21.1l-12.7 -21.1v-3zM1149.2 886l3.3 6.8l-3.3 6.8l-3.3 -6.8z"/>
<path fill-rule="evenodd" d="M1288.4 869.3l12.7 21.1v3l-12.7 21.1l-12.7 -21.1v-3zM1288.4 885.1l3.3 6.8l-3.3 6.8l-3.3 -6.8z"/>
<path fill-rule="evenodd" d="M1427.8 867.75l12.7 21.1v3l-12.7 21.1l-12.7 -21.1v-3zM1427.8 883.55l3.3 6.8l-3.3 6.8l-3.3 -6.8z"/>
<path fill-rule="evenodd" d="M1567.2 867.75l12.7 21.1v3l-12.7 21.1l-12.7 -21.1v-3zM1567.2 883.55l3.3 6.8l-3.3 6.8l-3.3 -6.8z"/>
<path fill-rule="evenodd" d="M1706.6 867.8l12.7 21.1v3l-12.7 21.1l-12.7 -21.1v-3zM1706.6 883.6l3.3 6.8l-3.3 6.8l-3.3 -6.8z"/>
<path fill-rule="evenodd" d="M1845.9 867.9l12.7 21.1v3l-12.7 21.1l-12.7 -21.1v-3zM1845.9 883.7l3.3 6.8l-3.3 6.8l-3.3 -6.8z"/>
</g>
<g fill="#ff00ff" stroke="none" shape-rendering="crispEdges">
<polyline transform="scale(0.92 1)" fill="none" stroke="#ff00ff" stroke-width="8.7" stroke-linejoin="round" points="190.22,338 341.09,721.8 492.39,858.1 643.7,1019.5 795,1071.4 946.3,1098.05 1097.61,1104.4 1249.13,1109.25 1400.43,1097.4 1551.96,1090.4 1703.48,1089 1855,1089 2006.41,1089.05"/>
<path fill-rule="evenodd" d="M165.2 317.8v40.4l27.5 -20.2z M171.8 333.2v9.6l6.4 -4.8z"/>
<path fill-rule="evenodd" d="M304 701.6v40.4l27.5 -20.2z M310.6 717v9.6l6.4 -4.8z"/>
<path fill-rule="evenodd" d="M443.2 837.9v40.4l27.5 -20.2z M449.8 853.3v9.6l6.4 -4.8z"/>
<path fill-rule="evenodd" d="M582.4 999.3v40.4l27.5 -20.2z M589 1014.7v9.6l6.4 -4.8z"/>
<path fill-rule="evenodd" d="M721.6 1051.2v40.4l27.5 -20.2z M728.2 1066.6v9.6l6.4 -4.8z"/>
<path fill-rule="evenodd" d="M860.8 1077.85v40.4l27.5 -20.2z M867.4 1093.25v9.6l6.4 -4.8z"/>
<path fill-rule="evenodd" d="M1000 1084.2v40.4l27.5 -20.2z M1006.6 1099.6v9.6l6.4 -4.8z"/>
<path fill-rule="evenodd" d="M1139.4 1089.05v40.4l27.5 -20.2z M1146 1104.45v9.6l6.4 -4.8z"/>
<path fill-rule="evenodd" d="M1278.6 1077.2v40.4l27.5 -20.2z M1285.2 1092.6v9.6l6.4 -4.8z"/>
<path fill-rule="evenodd" d="M1418 1070.2v40.4l27.5 -20.2z M1424.6 1085.6v9.6l6.4 -4.8z"/>
<path fill-rule="evenodd" d="M1557.4 1068.8v40.4l27.5 -20.2z M1564 1084.2v9.6l6.4 -4.8z"/>
<path fill-rule="evenodd" d="M1696.8 1068.8v40.4l27.5 -20.2z M1703.4 1084.2v9.6l6.4 -4.8z"/>
<path fill-rule="evenodd" d="M1836.1 1068.85v40.4l27.5 -20.2z M1842.7 1084.25v9.6l6.4 -4.8z"/>
</g>
<g shape-rendering="crispEdges">
<path d="M1612 68H1902V539H1612z" fill="#000"/>
<path d="M1614 70H1899V536H1614z" fill="#fff"/>
<g fill="#ff0000"><path d="M1630 116.15h88v8.7h-88z"/><path fill-rule="evenodd" d="M1661.5 120.5a12.2 16 0 1 0 24.4 0a12.2 16 0 1 0 -24.4 0zM1669.4 120.5a4.3 6.9 0 1 0 8.6 0a4.3 6.9 0 1 0 -8.6 0z"/></g>
<g fill="#000000"><path d="M1630 207.65h88v8.7h-88z"/><ellipse cx="1673.7" cy="212" rx="9.4" ry="12.1"/></g>
<g fill="#0000ff"><path d="M1630 299.05h88v8.7h-88z"/><path fill-rule="evenodd" d="M1663 289.8h21.4v27.2h-21.4z M1670.1 298.3h7.2v10.2h-7.2z"/></g>
<g fill="#00ff00"><path d="M1630 390.05h88v8.7h-88z"/><path fill-rule="evenodd" d="M1673.7 371.8l12.8 21.1v3l-12.8 21.1l-12.8 -21.1v-3zM1673.7 387.6l3.3 6.8l-3.3 6.8l-3.3 -6.8z"/></g>
<g fill="#ff00ff"><path d="M1630 481.45h88v8.7h-88z"/><path fill-rule="evenodd" d="M1663.9 465.6v40.4l27.5 -20.2z M1670.5 481v9.6l6.4 -4.8z"/></g>
</g>
<text transform="translate(1725.4 148) scale(0.77 1.055)" text-anchor="start">BPSK</text>
<text transform="translate(1725.4 239) scale(0.77 1.055)" text-anchor="start">QPSK</text>
<text transform="translate(1725.4 330.7) scale(0.77 1.055)" text-anchor="start">2FSK</text>
<text transform="translate(1725.4 421.8) scale(0.77 1.055)" text-anchor="start">4FSK</text>
<text transform="translate(1725.4 513.5) scale(0.77 1.055)" text-anchor="start">MSK</text>
<text transform="translate(166.62 1425.1) scale(0.77 1.016)" text-anchor="end">10</text>
<text transform="translate(166.62 1232.67) scale(0.77 1.016)" text-anchor="end">20</text>
<text transform="translate(166.62 1040.24) scale(0.77 1.016)" text-anchor="end">30</text>
<text transform="translate(166.62 847.81) scale(0.77 1.016)" text-anchor="end">40</text>
<text transform="translate(166.62 655.39) scale(0.77 1.016)" text-anchor="end">50</text>
<text transform="translate(166.62 462.96) scale(0.77 1.016)" text-anchor="end">60</text>
<text transform="translate(166.62 270.53) scale(0.77 1.016)" text-anchor="end">70</text>
<text transform="translate(166.62 78.1) scale(0.77 1.016)" text-anchor="end">80</text>
<text transform="translate(523 1479.2) scale(0.77 1.016)" text-anchor="middle">0</text>
<text transform="translate(871 1479.2) scale(0.77 1.016)" text-anchor="middle">5</text>
<text transform="translate(1219.3 1479.2) scale(0.77 1.016)" text-anchor="middle">10</text>
<text transform="translate(1567 1479.2) scale(0.77 1.016)" text-anchor="middle">15</text>
<text transform="translate(1914.4 1479.2) scale(0.77 1.016)" text-anchor="middle">20</text>
<text transform="translate(122.3 1479.2) scale(0.77 1.016)" text-anchor="start"><tspan dy="8.6" textLength="48.5" lengthAdjust="spacingAndGlyphs">−</tspan><tspan dy="-8.6" dx="-2">5</tspan></text>
<text transform="translate(1044.3 1552.8) scale(0.761 1.04)" text-anchor="middle">SNR (dB)</text>
<text transform="translate(74 723.9) scale(0.77 1) rotate(-90) scale(0.993 1.03)" text-anchor="middle">Amplitude</text>
</svg>
</body></html>
